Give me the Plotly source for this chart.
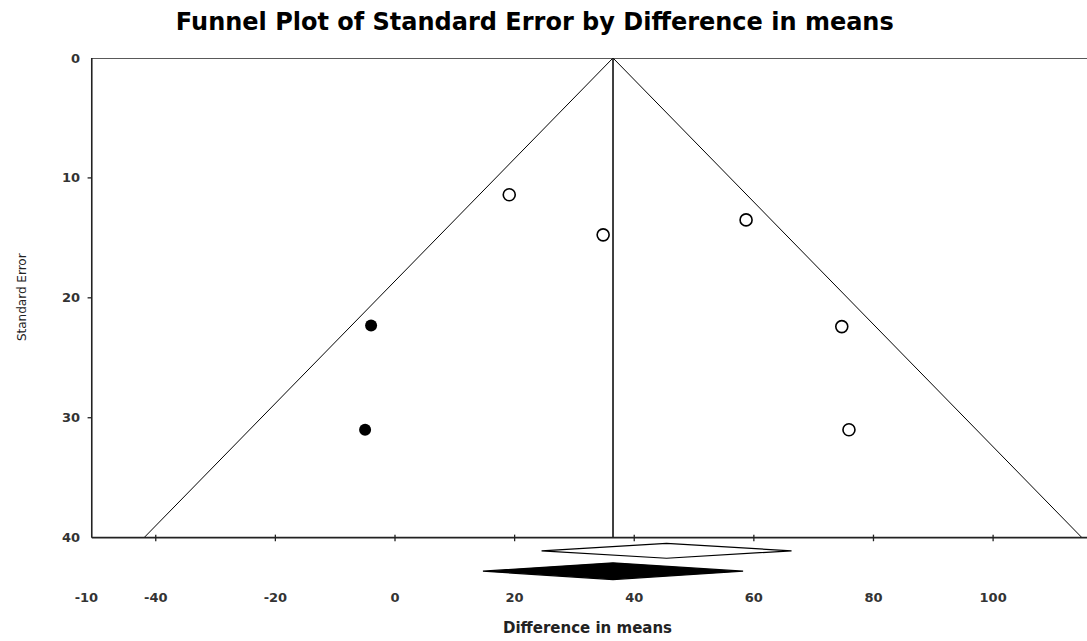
import plotly.graph_objects as go

# ---- data ----
observed_effect = [19.1, 34.8, 58.7, 74.7, 75.9]
observed_se = [11.4, 14.75, 13.5, 22.4, 31.0]
imputed_effect = [-4.0, -5.0]
imputed_se = [22.3, 31.0]

observed_mean = 45.4
observed_ci = [24.5, 66.3]
adjusted_mean = 36.45
adjusted_ci = [14.7, 58.2]

se_max = 40
x_ticks = [-51.6, -40, -20, 0, 20, 40, 60, 80, 100]
x_ticktext = ["-10", "-40", "-20", "0", "20", "40", "60", "80", "100"]
y_ticks = [0, 10, 20, 30, 40]

x_left, x_right = -50.7, 115.7
x_range = [-52.5, 115.7]
y_range = [44.2, 0]

fig = go.Figure()

# funnel
z = 1.96
fig.add_trace(go.Scatter(
    x=[adjusted_mean - z * se_max, adjusted_mean, adjusted_mean + z * se_max],
    y=[se_max, 0, se_max], mode="lines",
    line=dict(color="black", width=1), hoverinfo="skip", showlegend=False))
fig.add_trace(go.Scatter(
    x=[adjusted_mean, adjusted_mean], y=[0, se_max], mode="lines",
    line=dict(color="black", width=1.5), hoverinfo="skip", showlegend=False))

# studies
fig.add_trace(go.Scatter(
    x=observed_effect, y=observed_se, mode="markers",
    marker=dict(symbol="circle-open", size=12, color="black", line=dict(width=1.6)),
    showlegend=False))
fig.add_trace(go.Scatter(
    x=imputed_effect, y=imputed_se, mode="markers",
    marker=dict(symbol="circle", size=12, color="black"),
    showlegend=False))

# summary diamonds
def diamond(lo, mid, hi, yc, h):
    return [lo, mid, hi, mid, lo], [yc, yc - h, yc, yc + h, yc]

dx, dy = diamond(observed_ci[0], observed_mean, observed_ci[1], 41.1, 0.62)
fig.add_trace(go.Scatter(x=dx, y=dy, mode="lines", fill="toself",
                         fillcolor="white", line=dict(color="black", width=1.2),
                         showlegend=False, hoverinfo="skip"))
dx, dy = diamond(adjusted_ci[0], adjusted_mean, adjusted_ci[1], 42.8, 0.7)
fig.add_trace(go.Scatter(x=dx, y=dy, mode="lines", fill="toself",
                         fillcolor="black", line=dict(color="black", width=1.2),
                         showlegend=False, hoverinfo="skip"))

shapes = []
ax_line = dict(color="#222", width=1.6)
shapes.append(dict(type="line", xref="x", yref="y", x0=x_left, x1=x_right, y0=0, y1=0, line=ax_line))
shapes.append(dict(type="line", xref="x", yref="y", x0=x_left, x1=x_right, y0=se_max, y1=se_max, line=ax_line))
shapes.append(dict(type="line", xref="x", yref="y", x0=x_left, x1=x_left, y0=0, y1=se_max, line=ax_line))
for v in x_ticks[1:]:
    shapes.append(dict(type="line", xref="x", yref="y", x0=v, x1=v, y0=se_max - 0.25, y1=se_max + 0.3,
                       line=dict(color="#222", width=1.3)))
for v in y_ticks[1:-1]:
    shapes.append(dict(type="line", xref="x", yref="y", x0=x_left - 0.7, x1=x_left, y0=v, y1=v,
                       line=dict(color="#222", width=1.3)))

tick_font = dict(family="DejaVu Sans, sans-serif", size=13, color="#333")

fig.update_layout(
    width=1087, height=641,
    margin=dict(l=81, r=0, t=58, b=53, autoexpand=False),
    paper_bgcolor="white", plot_bgcolor="white",
    shapes=shapes,
    title=dict(text="<b>Funnel Plot of Standard Error by Difference in means</b>",
               x=0.492, xanchor="center", y=1 - 22 / 641, yanchor="middle",
               font=dict(family="DejaVu Sans, sans-serif", size=24, color="black")),
    xaxis=dict(range=x_range, tickvals=x_ticks, ticktext=["<b>%s</b>" % t for t in x_ticktext],
               showgrid=False, zeroline=False, showline=False, ticks="",
               tickfont=tick_font, automargin=False),
    yaxis=dict(range=y_range, tickvals=y_ticks, ticktext=["<b>%d</b>" % t for t in y_ticks],
               showgrid=False, zeroline=False, showline=False, ticks="",
               tickfont=tick_font, automargin=False),
    annotations=[
        dict(text="<b>Difference in means</b>", xref="paper", yref="paper",
             x=0.503, y=-0.0747, xanchor="center", yanchor="middle", showarrow=False,
             font=dict(family="DejaVu Sans, sans-serif", size=15, color="#222")),
        dict(text="Standard Error", xref="paper", yref="paper",
             x=-0.0586, y=0.549, xanchor="center", yanchor="middle", showarrow=False,
             textangle=-90,
             font=dict(family="DejaVu Sans, sans-serif", size=12, color="#222")),
    ],
)

fig.write_html("out.html", config={"displayModeBar": False},
               post_script="document.body.style.margin='0';document.body.style.overflow='hidden';")
